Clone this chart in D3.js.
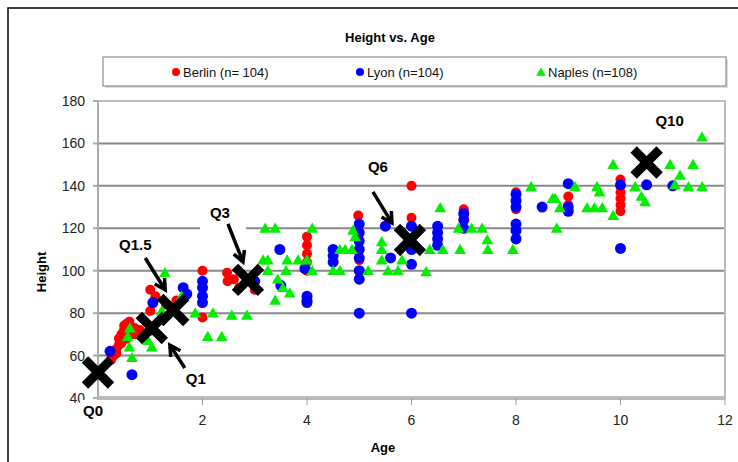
<!DOCTYPE html>
<html>
<head>
<meta charset="utf-8">
<script src="https://cdn.jsdelivr.net/npm/d3@7"></script>
<style>
body{margin:0;background:#fff;}
svg{display:block;font-family:"Liberation Sans",Arial,sans-serif;}
</style>
</head>
<body>
<svg id="chart" width="738" height="462"></svg>
<script>
// data: [age, height]
var berlin = [[0.25,58],[0.3,60],[0.35,63],[0.4,65],[0.4,68],[0.45,70],[0.5,72],[0.5,74],[0.55,75],[0.6,73],
  [0.65,71],[0.7,73],[0.75,72],[0.45,66],[0.55,68],[0.8,72],[0.35,61],[0.5,69],[0.6,76],[0.7,70],
  [1.0,91],[1.0,81],[1.1,88],[1.3,84],[1.5,86],
  [2.0,100],[2.0,78],[2.47,99],[2.48,95],[2.6,96],[2.7,92],[3.0,91],
  [4.0,116],[4.0,112],[4.0,108],[4.0,104],[4.0,100],[4.98,126],[5.0,105],
  [6.0,140],[6.0,125],[7.0,129],[7.0,126],[8.0,137],[8.0,133],[8.0,129],
  [9.0,135],[9.0,131],[10,143],[10,140],[10,137],[10,134],[10,131],[10,128]];
var lyon = [[0.23,62],[0.65,51],[1.05,85],[1.0,72],[1.63,92],[1.7,89],[2.0,95],[2.0,92],[2.0,88],[2.0,85],
  [3.0,95],[3.48,110],[3.5,93],[3.96,101],[4.0,88],[4.0,86],[4.0,85],[4.5,110],[4.5,107],[4.5,104],
  [5.0,122],[5.0,118],[5.0,114],[5.0,110],[5.0,106],[5.0,100],[5.0,96],[5.0,80],
  [5.5,121],[5.6,106],[6.0,121],[6.0,110],[6.0,103],[6.0,80],
  [6.5,121],[6.5,118],[6.5,115],[6.5,112],[7.0,127],[7.0,124],[7.0,120],
  [8.0,136],[8.0,133],[8.0,130],[8.0,122],[8.0,119],[8.0,115],[8.5,130],
  [9.0,141],[9.0,130],[9.0,128],[10,140.5],[10,110.5],[10.5,140.5],[11,140]];
var naples = [[0.57,69],[0.65,59],[0.6,64],[0.61,73],[1.28,99],[1.03,64],[0.96,67],[1.22,81],[1.6,88],
  [1.86,80],[2.2,80],[2.56,79],[2.85,79],[2.1,69],[2.37,69],
  [3.2,120],[3.39,120],[4.1,120],[4.88,119],
  [3.25,100],[3.6,100],[4.1,100],[4.5,100],[4.63,100],[5.17,100],[5.55,100],[5.74,100],
  [3.16,105],[3.25,105],[3.62,105],[3.83,105],[4.0,105],[5.43,105],
  [4.63,110],[4.73,110],[4.86,110],[5.43,110],[5.43,113.6],[4.92,116],
  [3.44,96],[3.54,92],[3.67,89.5],[3.39,86],[5.82,105],
  [8.29,139.5],[6.55,129.6],[6.9,120],[7.15,120],[7.35,120],[7.45,114.5],
  [6.35,110],[6.6,110],[6.93,110],[7.46,110],[7.94,110],[6.28,99.5],
  [8.7,134],[8.75,134],[8.84,129.6],[8.78,120],[9.13,139.5],[9.55,139.5],[9.6,137],
  [9.36,129.6],[9.5,129.6],[9.65,129.6],[9.86,150],[9.86,126],[10.28,139.5],[10.4,135],[10.47,132.5],
  [10.95,150],[11.14,145],[11.04,140.5],[11.39,150],[11.3,139.5],[11.56,139.5],[11.56,163]];
var quantiles = [{q:"Q0",age:0,h:52},{q:"Q1",age:1.03,h:73},{q:"Q1.5",age:1.44,h:81.5},
  {q:"Q3",age:2.87,h:95.7},{q:"Q6",age:5.97,h:114.5},{q:"Q10",age:10.5,h:151}];
var yTicks = [40,60,80,100,120,140,160,180];
var xTicks = [2,4,6,8,10,12];
var seriesNames = ["Berlin (n= 104)","Lyon (n=104)","Naples (n=108)"];

var svg = d3.select("#chart");
var x = d3.scaleLinear().domain([0,12]).range([98,725]);
var y = d3.scaleLinear().domain([40,180]).range([398,101]);

// outer frame
svg.append("path").attr("d","M8,470 L8,8 L740,8").attr("fill","none").attr("stroke","#000").attr("stroke-width",1.5);

svg.append("text").attr("x",390).attr("y",42).attr("text-anchor","middle")
  .attr("font-size",13).attr("font-weight","bold").text("Height vs. Age");

// legend
svg.append("rect").attr("x",105).attr("y",59).attr("width",623).attr("height",29).attr("fill","#ddd");
svg.append("rect").attr("x",103).attr("y",57).attr("width",623).attr("height",29)
  .attr("fill","#fff").attr("stroke","#777").attr("stroke-width",1);
var legX = [176,360,541];
var colors = ["#ff0000","#0000ff","#00ee00"];
seriesNames.forEach(function(n,i){
  if(i==2){
    svg.append("path").attr("d",d3.symbol(d3.symbolTriangle,40)()).attr("transform","translate("+legX[i]+",73)").attr("fill",colors[i]);
  } else {
    svg.append("circle").attr("cx",legX[i]).attr("cy",72).attr("r",4).attr("fill",colors[i]);
  }
  svg.append("text").attr("x",legX[i]+7).attr("y",77).attr("font-size",13).attr("fill","#111").text(n);
});

// gridlines
svg.selectAll(".grid").data(yTicks.slice(1,7)).enter().append("line")
  .attr("x1",x(0)).attr("x2",x(12)).attr("y1",d=>y(d)).attr("y2",d=>y(d))
  .attr("stroke","#888").attr("stroke-width",2);
svg.append("path").attr("d","M"+x(0)+","+y(180)+" L"+x(12)+","+y(180)+" L"+x(12)+","+y(40))
  .attr("fill","none").attr("stroke","#bbb").attr("stroke-width",2);

// axes
svg.append("line").attr("x1",x(0)).attr("x2",x(0)).attr("y1",y(180)).attr("y2",y(40)+6)
  .attr("stroke","#aaa").attr("stroke-width",2);
svg.selectAll(".yt").data(yTicks).enter().append("line")
  .attr("x1",x(0)-5).attr("x2",x(0)).attr("y1",d=>y(d)).attr("y2",d=>y(d)).attr("stroke","#aaa").attr("stroke-width",2);
svg.selectAll(".yl").data(yTicks).enter().append("text")
  .attr("x",85).attr("y",d=>y(d)+5).attr("text-anchor","end").attr("font-size",14).attr("fill","#222").text(d=>d);
svg.append("line").attr("x1",x(0)).attr("x2",x(12)).attr("y1",y(40)).attr("y2",y(40))
  .attr("stroke","#bbb").attr("stroke-width",4);
svg.selectAll(".xt").data(xTicks).enter().append("line")
  .attr("x1",d=>x(d)).attr("x2",d=>x(d)).attr("y1",y(40)).attr("y2",y(40)+7).attr("stroke","#999").attr("stroke-width",1);
svg.selectAll(".xl").data(xTicks).enter().append("text")
  .attr("x",d=>x(d)).attr("y",y(40)+27).attr("text-anchor","middle").attr("font-size",14).attr("fill","#222").text(d=>d);

svg.append("text").attr("x",383).attr("y",452).attr("text-anchor","middle").attr("font-size",13).attr("font-weight","bold").text("Age");
svg.append("text").attr("transform","translate(46,272) rotate(-90)").attr("text-anchor","middle")
  .attr("font-size",13).attr("font-weight","bold").text("Height");

// points
svg.selectAll(".b").data(berlin).enter().append("circle")
  .attr("cx",d=>x(d[0])).attr("cy",d=>y(d[1])).attr("r",5).attr("fill",colors[0]);
svg.selectAll(".l").data(lyon).enter().append("circle")
  .attr("cx",d=>x(d[0])).attr("cy",d=>y(d[1])).attr("r",5.5).attr("fill",colors[1]);
svg.selectAll(".n").data(naples).enter().append("path")
  .attr("d",d3.symbol(d3.symbolTriangle,60)())
  .attr("transform",d=>"translate("+x(d[0])+","+(y(d[1])+1)+")").attr("fill",colors[2]);

// annotation layout (pixel offsets from each X marker)
var lab = {"Q0":[-5,43,null],"Q1":[44,56,[33,40,18,17]],"Q1.5":[-38,-60,[-28,-52,-8,-20]],
  "Q3":[-28,-62,[-20,-56,-5,-18]],"Q6":[-32,-68,[-37,-48,-18,-17]],"Q10":[23,-37,null]};

// white boxes behind some labels
svg.append("rect").attr("x",x(0)-18).attr("y",y(40)+2).attr("width",43).attr("height",28).attr("fill","#fff");
svg.append("rect").attr("x",x(2.87)-48).attr("y",y(95.7)-82).attr("width",46).attr("height",34).attr("fill","#fff");

quantiles.forEach(function(d){
  var cx = x(d.age), cy = y(d.h), o = lab[d.q], s = 13;
  svg.append("path").attr("d","M"+(cx-s)+","+(cy-s)+"L"+(cx+s)+","+(cy+s)+"M"+(cx+s)+","+(cy-s)+"L"+(cx-s)+","+(cy+s))
    .attr("stroke","#000").attr("stroke-width",9);
  svg.append("text").attr("x",cx+o[0]).attr("y",cy+o[1]).attr("text-anchor","middle")
    .attr("font-size",15).attr("font-weight","bold").text(d.q);
  if(o[2]){
    var a = o[2], x1=cx+a[0], y1=cy+a[1], x2=cx+a[2], y2=cy+a[3];
    var ang = Math.atan2(y2-y1,x2-x1), L=12;
    var w1 = [x2-L*Math.cos(ang-0.5), y2-L*Math.sin(ang-0.5)];
    var w2 = [x2-L*Math.cos(ang+0.5), y2-L*Math.sin(ang+0.5)];
    svg.append("path").attr("d","M"+x1+","+y1+"L"+x2+","+y2+"M"+w1+"L"+x2+","+y2+"L"+w2)
      .attr("fill","none").attr("stroke","#000").attr("stroke-width",3.5);
  }
});
</script>
</body>
</html>
